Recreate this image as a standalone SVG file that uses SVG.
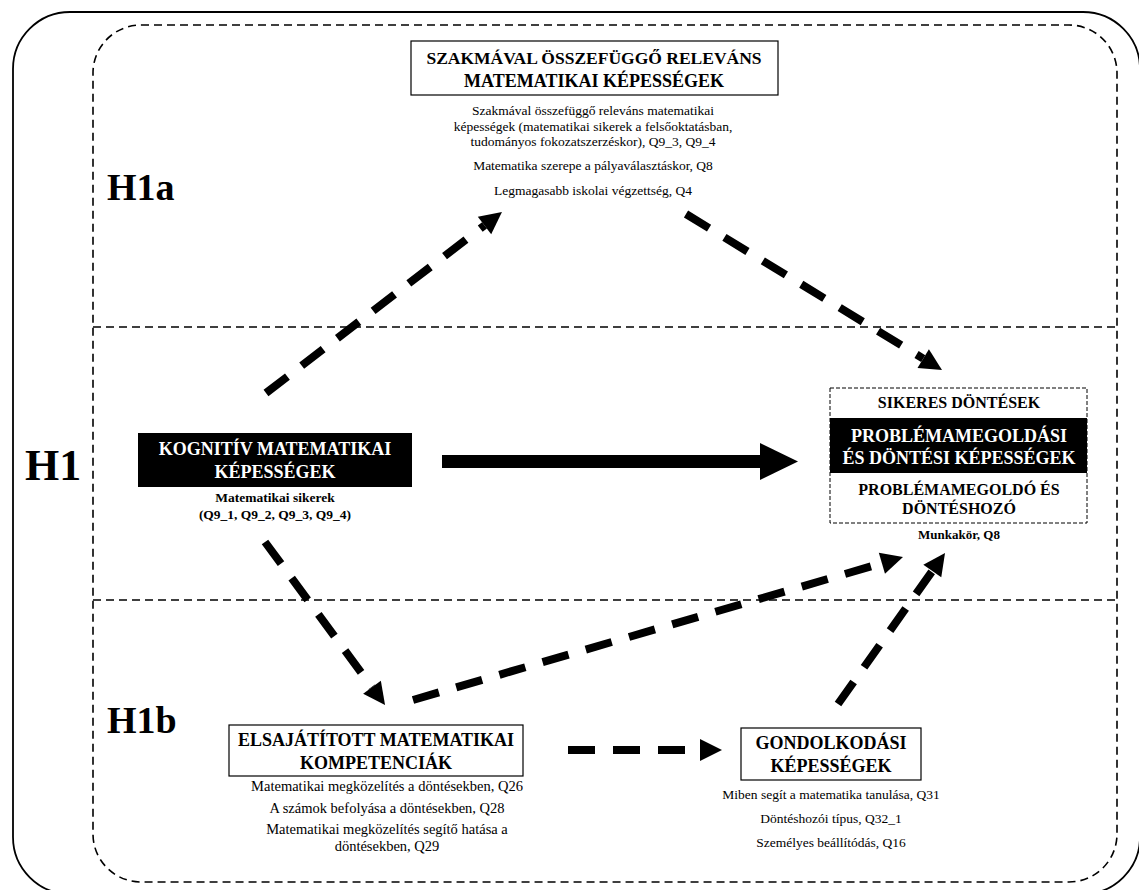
<svg xmlns="http://www.w3.org/2000/svg" width="1139" height="890" viewBox="0 0 1139 890">
<style>
text{font-family:"Liberation Serif","Times New Roman",serif;fill:#000;text-anchor:middle}
.h{font-weight:bold;font-size:38px;text-anchor:start}
.t{font-weight:bold;font-size:18px}
.w{fill:#fff}
.s{font-size:13.5px}
.sb{font-size:13.5px;font-weight:bold}
.m{font-size:14.5px}
.frame{fill:none;stroke:#000}
.sep{stroke:#000;stroke-width:1.5;stroke-dasharray:8 5}
.dash{fill:none;stroke:#000;stroke-width:8;stroke-dasharray:27 18}
.box{fill:#fff;stroke:#000;stroke-width:1.2}
</style>
<defs>
<marker id="ah" markerUnits="userSpaceOnUse" markerWidth="24" markerHeight="24" refX="0" refY="11" orient="auto" overflow="visible">
<path d="M0,0 L22,11 L0,22 Z" fill="#000"/>
</marker>
</defs>
<rect width="1139" height="890" fill="#fff"/>
<g id="frames">
<rect class="frame" x="13" y="12" width="1127" height="882" rx="57" ry="57" stroke-width="1.8"/>
<rect class="frame" x="93" y="25" width="1024" height="857" rx="48" ry="48" stroke-width="1.6" stroke-dasharray="8 5"/>
<line class="sep" x1="93" y1="327" x2="1117" y2="327"/>
<line class="sep" x1="93" y1="600" x2="1117" y2="600"/>
</g>
<g id="labels">
<text class="h" x="107" y="200">H1a</text>
<text class="h" x="25" y="480" style="font-size:44px">H1</text>
<text class="h" x="107" y="733">H1b</text>
</g>
<g id="connectors">
<path class="dash" d="M266,393 L484.5,225.4" marker-end="url(#ah)"/>
<path class="dash" d="M686,214 L923.2,358.6" marker-end="url(#ah)"/>
<path class="dash" d="M265,542 L372,687.3" marker-end="url(#ah)"/>
<path class="dash" d="M413,700 L881.9,563.2" marker-end="url(#ah)"/>
<path class="dash" d="M568,750 L700,750" marker-end="url(#ah)"/>
<path class="dash" d="M838,704 L932.3,571" marker-end="url(#ah)"/>
<rect x="442" y="455" width="320" height="13" fill="#000"/>
<path d="M760,443 L798,461.5 L760,480 Z" fill="#000"/>
</g>
<g id="node-szakmaval">
<rect class="box" x="411" y="41" width="367" height="54"/>
<text class="t" x="594" y="64" style="font-size:17.5px">SZAKMÁVAL ÖSSZEFÜGGŐ RELEVÁNS</text>
<text class="t" x="594" y="87">MATEMATIKAI KÉPESSÉGEK</text>
<text class="s" x="593" y="115">Szakmával összefüggő releváns matematikai</text>
<text class="s" x="593" y="131">képességek (matematikai sikerek a felsőoktatásban,</text>
<text class="s" x="593" y="146">tudományos fokozatszerzéskor), Q9_3, Q9_4</text>
<text class="s" x="593" y="170">Matematika szerepe a pályaválasztáskor, Q8</text>
<text class="s" x="593" y="195">Legmagasabb iskolai végzettség, Q4</text>
</g>
<g id="node-kognitiv">
<rect x="138" y="433" width="274" height="54" fill="#000"/>
<text class="t w" x="275" y="455">KOGNITÍV MATEMATIKAI</text>
<text class="t w" x="275" y="478">KÉPESSÉGEK</text>
<text class="sb" x="275" y="502">Matematikai sikerek</text>
<text class="sb" x="275" y="519">(Q9_1, Q9_2, Q9_3, Q9_4)</text>
</g>
<g id="node-sikeres">
<rect x="830" y="388" width="257" height="135" fill="#fff" stroke="#000" stroke-width="1" stroke-dasharray="4 2"/>
<rect x="830" y="418" width="257" height="55" fill="#000"/>
<text class="t" x="959" y="408" style="font-size:16px">SIKERES DÖNTÉSEK</text>
<text class="t w" x="959" y="442">PROBLÉMAMEGOLDÁSI</text>
<text class="t w" x="959" y="464">ÉS DÖNTÉSI KÉPESSÉGEK</text>
<text class="t" x="959" y="495" style="font-size:16px">PROBLÉMAMEGOLDÓ ÉS</text>
<text class="t" x="959" y="514" style="font-size:16px">DÖNTÉSHOZÓ</text>
<text class="sb" x="959" y="539" style="font-size:13px">Munkakör, Q8</text>
</g>
<g id="node-elsajatitott">
<rect class="box" x="229" y="725" width="294" height="51"/>
<text class="t" x="376" y="746">ELSAJÁTÍTOTT MATEMATIKAI</text>
<text class="t" x="376" y="769">KOMPETENCIÁK</text>
<text class="m" x="387" y="791">Matematikai megközelítés a döntésekben, Q26</text>
<text class="m" x="387" y="813">A számok befolyása a döntésekben, Q28</text>
<text class="m" x="387" y="834">Matematikai megközelítés segítő hatása a</text>
<text class="m" x="387" y="851">döntésekben, Q29</text>
</g>
<g id="node-gondolkodasi">
<rect class="box" x="741" y="728" width="180" height="52"/>
<text class="t" x="831" y="749">GONDOLKODÁSI</text>
<text class="t" x="831" y="772">KÉPESSÉGEK</text>
<text class="s" x="831" y="799">Miben segít a matematika tanulása, Q31</text>
<text class="s" x="831" y="823">Döntéshozói típus, Q32_1</text>
<text class="s" x="831" y="847">Személyes beállítódás, Q16</text>
</g>
</svg>
